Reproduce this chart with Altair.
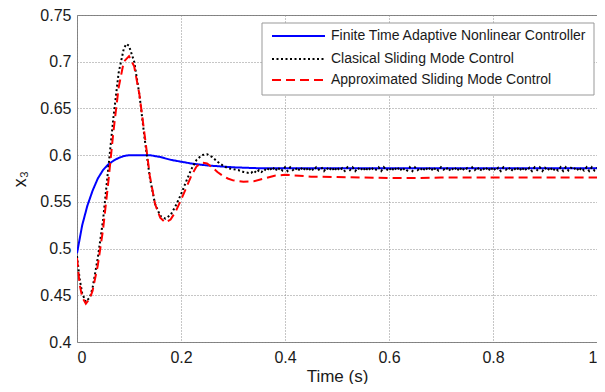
import altair as alt
import pandas as pd

S_FT = "Finite Time Adaptive Nonlinear Controller"
S_CS = "Clasical Sliding Mode Control"
S_AS = "Approximated Sliding Mode Control"

# Finite time adaptive controller (blue)
ft_t = [0, 0.01, 0.02, 0.03, 0.04, 0.05, 0.06, 0.07, 0.08, 0.09, 0.10, 0.12, 0.14,
        0.16, 0.18, 0.20, 0.22, 0.25, 0.30, 0.35, 0.40, 0.50, 0.60, 0.70, 0.80, 0.90, 1.0]
ft_v = [0.495, 0.525, 0.546, 0.562, 0.575, 0.584, 0.590, 0.594, 0.597, 0.599, 0.600, 0.600, 0.600,
        0.598, 0.595, 0.593, 0.591, 0.589, 0.587, 0.586, 0.586, 0.586, 0.586, 0.586, 0.586, 0.586, 0.586]

# Classical sliding mode (black dotted) - transient
cs_t = [0, 0.005, 0.01, 0.017, 0.025, 0.03, 0.04, 0.05, 0.06, 0.07, 0.08, 0.09, 0.095,
        0.10, 0.11, 0.12, 0.13, 0.14, 0.15, 0.16, 0.17, 0.18, 0.19, 0.20, 0.21, 0.22,
        0.23, 0.24, 0.25, 0.26, 0.27, 0.28, 0.29, 0.30, 0.31, 0.32, 0.33]
cs_v = [0.492, 0.468, 0.452, 0.443, 0.448, 0.458, 0.490, 0.530, 0.585, 0.640, 0.688, 0.714, 0.719,
        0.717, 0.700, 0.665, 0.618, 0.576, 0.548, 0.535, 0.532, 0.536, 0.546, 0.558, 0.572, 0.585,
        0.595, 0.600, 0.601, 0.598, 0.593, 0.589, 0.586, 0.585, 0.584, 0.582, 0.581]
# Classical sliding mode - chattering steady state (step 0.005 from 0.335)
cs_chatter = [0.5810, 0.5835, 0.5810, 0.5840, 0.5820, 0.5850, 0.5830, 0.5870, 0.5835, 0.5870,
              0.5830, 0.5865, 0.5835, 0.5870, 0.5830, 0.5870, 0.5840, 0.5865, 0.5830, 0.5870,
              0.5835, 0.5870, 0.5830, 0.5865, 0.5835, 0.5870, 0.5845, 0.5870, 0.5830, 0.5865,
              0.5835, 0.5870, 0.5830, 0.5870, 0.5835, 0.5860, 0.5830, 0.5870, 0.5840, 0.5870,
              0.5830, 0.5865, 0.5835, 0.5870, 0.5830, 0.5870, 0.5835, 0.5865, 0.5845, 0.5870,
              0.5830, 0.5870, 0.5835, 0.5865, 0.5830, 0.5870, 0.5835, 0.5870, 0.5830, 0.5860,
              0.5835, 0.5870, 0.5830, 0.5870, 0.5840, 0.5865, 0.5830, 0.5870, 0.5835, 0.5870,
              0.5830, 0.5865, 0.5835, 0.5870, 0.5845, 0.5870, 0.5830, 0.5865, 0.5835, 0.5870,
              0.5830, 0.5870, 0.5835, 0.5860, 0.5830, 0.5870, 0.5840, 0.5870, 0.5830, 0.5865,
              0.5835, 0.5870, 0.5830, 0.5870, 0.5835, 0.5865, 0.5830, 0.5870, 0.5845, 0.5870,
              0.5830, 0.5865, 0.5835, 0.5870, 0.5830, 0.5870, 0.5835, 0.5865, 0.5830, 0.5870,
              0.5840, 0.5870, 0.5830, 0.5865, 0.5835, 0.5870, 0.5830, 0.5860, 0.5835, 0.5870,
              0.5830, 0.5870, 0.5835, 0.5865, 0.5845, 0.5870, 0.5830, 0.5865, 0.5835, 0.5870,
              0.5830, 0.5870, 0.5835, 0.5865]
cs_chatter_t = [round(0.335 + 0.005 * i, 3) for i in range(len(cs_chatter))]

# Approximated sliding mode (red dashed)
as_t = [0, 0.005, 0.01, 0.017, 0.025, 0.03, 0.04, 0.05, 0.06, 0.07, 0.08, 0.09, 0.10,
        0.11, 0.12, 0.13, 0.14, 0.15, 0.16, 0.17, 0.18, 0.19, 0.20, 0.21, 0.22, 0.23,
        0.24, 0.25, 0.26, 0.27, 0.28, 0.29, 0.30, 0.32, 0.34, 0.36, 0.38, 0.40, 0.45,
        0.50, 0.55, 0.60, 0.65, 0.70, 0.80, 0.90, 1.0]
as_v = [0.490, 0.462, 0.448, 0.441, 0.447, 0.455, 0.482, 0.520, 0.570, 0.625, 0.672, 0.700, 0.706,
        0.695, 0.665, 0.622, 0.578, 0.548, 0.533, 0.528, 0.531, 0.540, 0.552, 0.565, 0.578, 0.588,
        0.592, 0.591, 0.587, 0.582, 0.578, 0.575, 0.573, 0.5715, 0.572, 0.575, 0.578, 0.579, 0.577,
        0.5765, 0.576, 0.5755, 0.5755, 0.576, 0.576, 0.576, 0.576]

rows = []
for t, v in zip(ft_t, ft_v):
    rows.append({"t": t, "v": v, "s": S_FT})
for t, v in zip(cs_t + cs_chatter_t, cs_v + cs_chatter):
    rows.append({"t": t, "v": v, "s": S_CS})
for t, v in zip(as_t, as_v):
    rows.append({"t": t, "v": v, "s": S_AS})
df = pd.DataFrame(rows)

domain = [S_FT, S_CS, S_AS]
colors = ["#0000ff", "#000000", "#ff0000"]
dashes = [[1, 0], [2, 2.5], [9, 5]]
FONT = "Liberation Sans"

x_enc = alt.X("t:Q", scale=alt.Scale(domain=[0, 1], nice=False),
              axis=alt.Axis(title="Time (s)", values=[0, 0.2, 0.4, 0.6, 0.8, 1],
                            format="~g", labelPadding=7, titlePadding=3, titleFontSize=17))
y_enc = alt.Y("v:Q", scale=alt.Scale(domain=[0.4, 0.75], nice=False, zero=False),
              axis=alt.Axis(title="x₃", values=[0.4, 0.45, 0.5, 0.55, 0.6, 0.65, 0.7, 0.75],
                            format="~g", labelPadding=6, titlePadding=10, titleFontSize=18))

base = alt.Chart(df)
line_layers = []
for i, name in enumerate(domain):
    line_layers.append(
        base.transform_filter(alt.datum.s == name)
        .mark_line(strokeWidth=2, strokeCap="butt", clip=True, strokeDash=dashes[i])
        .encode(
            x=x_enc, y=y_enc,
            color=alt.Color("s:N", scale=alt.Scale(domain=domain, range=colors), legend=None),
        )
    )

# Legend (drawn by hand, in the upper right of the plot area)
box_df = pd.DataFrame({"k": [0]})
leg_df = pd.DataFrame({"s": domain})
layers = line_layers + [
    alt.Chart(box_df).mark_rect(fill="white", stroke="#999999", strokeWidth=1).encode(
        x=alt.value(185), x2=alt.value(517), y=alt.value(8), y2=alt.value(80))]
row_y = [21, 44, 65]
for i, name in enumerate(domain):
    sub = alt.Chart(leg_df).transform_filter(alt.datum.s == name)
    layers.append(sub.mark_rule(strokeWidth=2, color=colors[i], strokeDash=dashes[i],
                                strokeCap="butt").encode(
        x=alt.value(195), x2=alt.value(248), y=alt.value(row_y[i])))
    layers.append(sub.mark_text(align="left", baseline="middle", font=FONT, fontSize=14,
                                color="#1a1a1a").encode(
        x=alt.value(254), y=alt.value(row_y[i]), text="s:N"))

chart = alt.layer(*layers).properties(
    width=520, height=327,
    autosize=alt.AutoSizeParams(type="none"),
    padding={"left": 69, "top": 7, "right": 0, "bottom": 42},
).configure_view(
    stroke="#808080", strokeWidth=1
).configure_axis(
    labelFont=FONT, titleFont=FONT, labelFontSize=16,
    labelColor="#1a1a1a", titleColor="#1a1a1a", titleFontWeight="normal",
    domain=False, ticks=False,
    gridColor="#8c8c8c", gridDash=[1, 2], gridWidth=1, gridOpacity=1,
)

chart.save("out.html", embed_options={"renderer": "svg", "actions": False})
